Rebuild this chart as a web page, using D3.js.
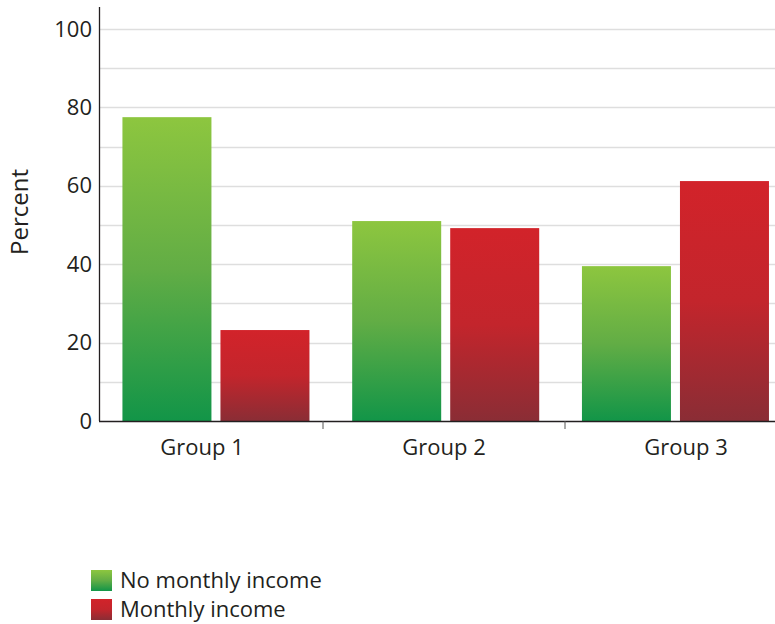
<!DOCTYPE html>
<html>
<head>
<meta charset="utf-8">
<script src="https://cdn.jsdelivr.net/npm/d3@7"></script>
<style>
  html, body { margin: 0; padding: 0; background: #fff; }
  svg { display: block; }
  text { font-family: "Open Sans", "Noto Sans", sans-serif; fill: #231f20; }
</style>
</head>
<body>
<svg id="chart" width="775" height="624"></svg>
<script>
// Share of respondents by group
const groups = ["Group 1", "Group 2", "Group 3"];
const seriesNames = ["No monthly income", "Monthly income"];
const noIncome = [77.5, 51.0, 39.5];
const withIncome = [23.2, 49.2, 61.2];
const yTicks = [0, 20, 40, 60, 80, 100];
const gridValues = [10, 20, 30, 40, 50, 60, 70, 80, 90, 100];
const yLabel = "Percent";

const seriesColors = [
  { id: "gradGreen", stops: ["#8dc63f", "#62ad45", "#129548"] },
  { id: "gradRed",   stops: ["#d2232a", "#c3252c", "#8a2d35"] }
];

const rows = groups.map((g, i) => ({ group: g, values: [noIncome[i], withIncome[i]] }));

const svg = d3.select("#chart");
const plot = { left: 99, right: 775, top: 7, bottom: 421 };

// Gradients: light at the top, darker at the base of each bar
const defs = svg.append("defs");
seriesColors.forEach(c => {
  const lg = defs.append("linearGradient")
    .attr("id", c.id).attr("x1", 0).attr("y1", 0).attr("x2", 0).attr("y2", 1);
  c.stops.forEach((col, k) => {
    lg.append("stop").attr("offset", k / (c.stops.length - 1)).attr("stop-color", col);
  });
});

const y = d3.scaleLinear().domain([0, 105.6]).range([plot.bottom, plot.top]);

// Category axis bands (labels centred, ticks on boundaries)
const xAxisBand = d3.scaleBand().domain(groups).range([81, 807]).padding(0);

// Bar placement
const xBars = d3.scaleBand().domain(groups).range([99, 792.4])
  .paddingInner(0.186).paddingOuter(0.102);
const xSub = d3.scaleBand().domain(d3.range(seriesNames.length))
  .range([0, xBars.bandwidth()]).paddingInner(0.092).paddingOuter(0);

// Gridlines
svg.append("g").selectAll("line").data(gridValues).join("line")
  .attr("x1", plot.left).attr("x2", plot.right)
  .attr("y1", d => Math.round(y(d)) + 0.5).attr("y2", d => Math.round(y(d)) + 0.5)
  .attr("stroke", "#dedede").attr("stroke-width", 1.5);

// Bars
const gGroups = svg.append("g").selectAll("g").data(rows).join("g")
  .attr("transform", d => `translate(${xBars(d.group)},0)`);
gGroups.selectAll("rect").data(d => d.values.map((v, k) => ({ v, k }))).join("rect")
  .attr("x", d => xSub(d.k))
  .attr("width", xSub.bandwidth())
  .attr("y", d => y(d.v))
  .attr("height", d => y(0) - y(d.v))
  .attr("fill", d => `url(#${seriesColors[d.k].id})`);

// Y axis
const yAxis = d3.axisLeft(y).tickValues(yTicks).tickSize(0).tickPadding(7);
const gy = svg.append("g").attr("transform", `translate(${plot.left},0)`).call(yAxis);
gy.select(".domain").remove();
gy.selectAll("text").style("font-size", "22px").attr("fill", "#231f20");
svg.append("line")
  .attr("x1", plot.left + 0.5).attr("x2", plot.left + 0.5)
  .attr("y1", plot.top).attr("y2", plot.bottom)
  .attr("stroke", "#231f20").attr("stroke-width", 1.3);

// X axis
svg.append("line")
  .attr("x1", plot.left).attr("x2", plot.right)
  .attr("y1", plot.bottom + 0.5).attr("y2", plot.bottom + 0.5)
  .attr("stroke", "#231f20").attr("stroke-width", 1.3);
svg.append("g").selectAll("line").data(groups.slice(0, -1)).join("line")
  .attr("x1", d => xAxisBand(d) + xAxisBand.bandwidth())
  .attr("x2", d => xAxisBand(d) + xAxisBand.bandwidth())
  .attr("y1", plot.bottom).attr("y2", plot.bottom + 8)
  .attr("stroke", "#555").attr("stroke-width", 1);
svg.append("g").selectAll("text").data(groups).join("text")
  .attr("x", d => xAxisBand(d) + xAxisBand.bandwidth() / 2)
  .attr("y", 455)
  .attr("text-anchor", "middle")
  .style("font-size", "22px")
  .text(d => d);

// Y axis title
svg.append("text")
  .attr("transform", `translate(28,212) rotate(-90)`)
  .attr("text-anchor", "middle")
  .style("font-size", "24px")
  .text(yLabel);

// Legend
const legend = svg.append("g").attr("transform", "translate(91,570)");
const items = legend.selectAll("g").data(seriesNames).join("g")
  .attr("transform", (d, i) => `translate(0,${i * 29})`);
items.append("rect").attr("width", 21).attr("height", 21)
  .attr("fill", (d, i) => `url(#${seriesColors[i].id})`);
items.append("text").attr("x", 29).attr("y", 18)
  .style("font-size", "22px").text(d => d);
</script>
</body>
</html>
